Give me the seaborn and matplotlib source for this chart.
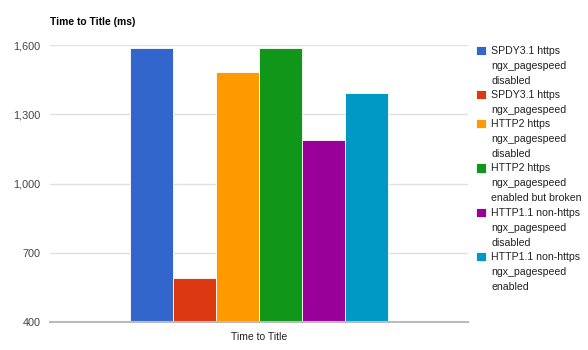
import matplotlib
matplotlib.use("Agg")
import matplotlib.pyplot as plt
import seaborn as sns
import pandas as pd

categories = ["Time to Title"]
series = [
    "SPDY3.1 https\nngx_pagespeed\ndisabled",
    "SPDY3.1 https\nngx_pagespeed",
    "HTTP2 https\nngx_pagespeed\ndisabled",
    "HTTP2 https\nngx_pagespeed\nenabled but broken",
    "HTTP1.1 non-https\nngx_pagespeed\ndisabled",
    "HTTP1.1 non-https\nngx_pagespeed\nenabled",
]
values = [1587, 592, 1484, 1587, 1189, 1390]
colors = ["#3366CC", "#DC3912", "#FF9900", "#109618", "#990099", "#0099C6"]
yticks = [400, 700, 1000, 1300, 1600]

df = pd.DataFrame({"cat": categories * len(series), "series": series, "value": values})

sns.set_style("white")
plt.rcParams["font.family"] = ["Arial", "Liberation Sans", "DejaVu Sans"]

fig = plt.figure(figsize=(5.88, 3.5), dpi=100)
ax = fig.add_axes([50 / 588, 1 - 322 / 350, 418 / 588, 277 / 350])

sns.barplot(data=df, x="cat", y="value", hue="series", hue_order=series,
            palette=colors, width=0.615, ax=ax, edgecolor="white", linewidth=0.6,
            saturation=1, legend=True)

ax.set_ylim(400, 1600)
ax.set_xlim(-0.5, 0.5)
ax.set_yticks(yticks)
ax.set_yticklabels([f"{v:,}" for v in yticks], color="#444444", fontsize=7.8)
ax.tick_params(axis="x", labelsize=7.5, colors="#222222", length=0, pad=7)
ax.tick_params(axis="y", length=0, pad=7)
for t in ax.get_xticklabels():
    t.set_color("#222222")
ax.set_xlabel("")
ax.set_ylabel("")
ax.grid(axis="y", color="#e0e0e0", linewidth=1)
ax.set_axisbelow(True)
for s in ["top", "right", "left"]:
    ax.spines[s].set_visible(False)
ax.spines["bottom"].set_color("#bbbbbb")
ax.spines["bottom"].set_linewidth(1.5)
ax.spines["bottom"].set_zorder(5)

fig.text(50 / 588, 1 - 22 / 350, "Time to Title (ms)", fontsize=7.4, fontweight="bold",
         color="#000000", va="center", ha="left")

handles, labels = ax.get_legend_handles_labels()
ax.get_legend().remove()
leg = fig.legend(handles, labels, loc="upper left", bbox_to_anchor=(476 / 588, 1 - 46 / 350),
                 frameon=False, fontsize=7.6, handlelength=0.95, handleheight=0.95,
                 handletextpad=0.5, labelspacing=0.4, borderaxespad=0, borderpad=0)
for t in leg.get_texts():
    t.set_color("#222222")
    t.set_linespacing(1.62)
# align each legend square with the first line of its label
for col in leg._legend_handle_box.get_children():
    for item in col.get_children():
        item.align = "top"

fig.savefig("out.png", dpi=100)
